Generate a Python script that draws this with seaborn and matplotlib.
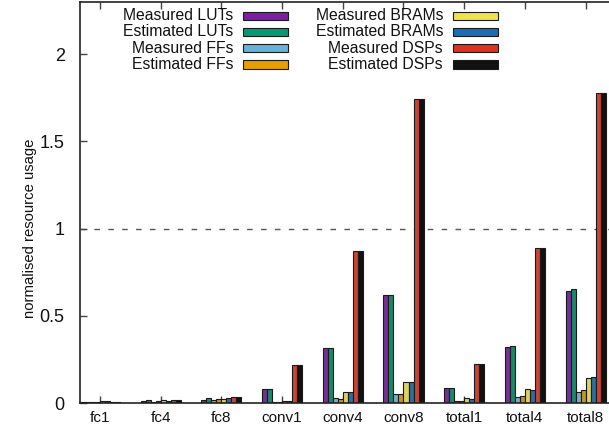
import matplotlib
matplotlib.use("Agg")
import matplotlib.pyplot as plt
from matplotlib.patches import Rectangle
import seaborn as sns
import pandas as pd

categories = ["fc1", "fc4", "fc8", "conv1", "conv4", "conv8", "total1", "total4", "total8"]

series_names = ["Measured LUTs", "Estimated LUTs", "Measured FFs", "Estimated FFs",
                "Measured BRAMs", "Estimated BRAMs", "Measured DSPs", "Estimated DSPs"]

measured_luts = [0.004, 0.010, 0.017, 0.078, 0.315, 0.622, 0.085, 0.322, 0.643]
estimated_luts = [0.004, 0.015, 0.030, 0.078, 0.315, 0.622, 0.085, 0.328, 0.655]
measured_ffs = [0.007, 0.008, 0.015, 0.004, 0.027, 0.050, 0.010, 0.033, 0.061]
estimated_ffs = [0.007, 0.011, 0.023, 0.004, 0.025, 0.050, 0.010, 0.040, 0.075]
measured_brams = [0.010, 0.017, 0.023, 0.011, 0.061, 0.120, 0.027, 0.079, 0.142]
estimated_brams = [0.010, 0.013, 0.027, 0.010, 0.061, 0.120, 0.025, 0.075, 0.149]
measured_dsps = [0.005, 0.017, 0.036, 0.220, 0.874, 1.745, 0.226, 0.890, 1.780]
estimated_dsps = [0.005, 0.017, 0.036, 0.220, 0.874, 1.745, 0.226, 0.890, 1.780]

series_values = [measured_luts, estimated_luts, measured_ffs, estimated_ffs,
                 measured_brams, estimated_brams, measured_dsps, estimated_dsps]

colors = ["#7d1fa6", "#079a72", "#67b1dd", "#e59f00",
          "#efe34a", "#1a6fb3", "#e0301e", "#111111"]

y_ticks = [0, 0.5, 1, 1.5, 2]
y_tick_labels = ["0", "0.5", "1", "1.5", "2"]

rows = []
for name, vals in zip(series_names, series_values):
    for cat, v in zip(categories, vals):
        rows.append({"category": cat, "series": name, "value": v})
df = pd.DataFrame(rows)

sns.set_theme(style="white")
plt.rcParams["font.family"] = ["Liberation Sans", "DejaVu Sans"]

fig = plt.figure(figsize=(6.09, 4.29), dpi=100)
ax = fig.add_axes([80 / 609, 26 / 429, 1 - 80 / 609, (403 - 2) / 429])

sns.barplot(data=df, x="category", y="value", hue="series",
            order=categories, hue_order=series_names, palette=colors,
            width=0.66, gap=0, errorbar=None, edgecolor="#1a1a1a",
            linewidth=0.8, legend=False, ax=ax)

ax.axhline(1.0, color="#555555", lw=1.0, dashes=(4, 6), zorder=0)

ax.set_xlim(-0.33, 8.386)
ax.set_ylim(0, 2.3)
ax.set_yticks(y_ticks)
ax.set_yticklabels(y_tick_labels)
ax.set_xlabel("")
ax.set_ylabel("")
fig.text(30 / 609, 1 - 228 / 429, "normalised resource usage", rotation=90,
         ha="center", va="center", fontsize=10.7, color="#111111")

for side in ["left", "bottom", "top"]:
    ax.spines[side].set_visible(True)
    ax.spines[side].set_color("#222222")
    ax.spines[side].set_linewidth(1.2)
ax.spines["right"].set_visible(False)

ax.tick_params(axis="both", direction="in", length=5, width=1.0,
               color="#444444", labelcolor="#111111")
ax.tick_params(axis="x", top=True, bottom=True, pad=6, labelsize=11)
ax.tick_params(axis="y", left=True, right=False, pad=11, labelsize=13)

# two-column key: right-aligned label followed by a swatch
row_y = [15.7, 31.8, 48.2, 64.5]
col_text_right = [233, 443]
col_box_left = [243, 453]
box_w, box_h = 45, 8
for i, (name, c) in enumerate(zip(series_names, colors)):
    col, row = divmod(i, 4)
    yc = row_y[row]
    fig.text(col_text_right[col] / 609, 1 - yc / 429, name, ha="right",
             va="center", fontsize=11.3, color="#111111")
    fig.patches.append(Rectangle((col_box_left[col] / 609, 1 - (yc + box_h / 2) / 429),
                                 box_w / 609, box_h / 429, transform=fig.transFigure,
                                 facecolor=c, edgecolor="#1a1a1a", lw=0.8))

fig.savefig("out.png", dpi=100)
